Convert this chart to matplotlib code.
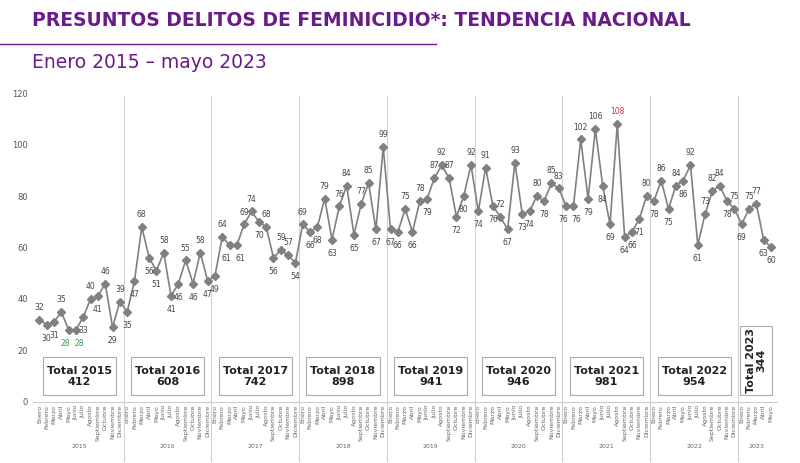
import matplotlib.pyplot as plt
from matplotlib.lines import Line2D
from matplotlib.patches import Rectangle

months = ["Enero", "Febrero", "Marzo", "Abril", "Mayo", "Junio", "Julio", "Agosto",
          "Septiembre", "Octubre", "Noviembre", "Diciembre"]
years = ["2015", "2016", "2017", "2018", "2019", "2020", "2021", "2022", "2023"]
v2015 = [32, 30, 31, 35, 28, 28, 33, 40, 41, 46, 29, 39]
v2016 = [35, 47, 68, 56, 51, 58, 41, 46, 55, 46, 58, 47]
v2017 = [49, 64, 61, 61, 69, 74, 70, 68, 56, 59, 57, 54]
v2018 = [69, 66, 68, 79, 63, 76, 84, 65, 77, 85, 67, 99]
v2019 = [67, 66, 75, 66, 78, 79, 87, 92, 87, 72, 80, 92]
v2020 = [74, 91, 76, 72, 67, 93, 73, 74, 80, 78, 85, 83]
v2021 = [76, 76, 102, 79, 106, 84, 69, 108, 64, 66, 71, 80]
v2022 = [78, 86, 75, 84, 86, 92, 61, 73, 82, 84, 78, 75]
v2023 = [69, 75, 77, 63, 60]
totals = [412, 608, 742, 898, 941, 946, 981, 954, 344]

series = [v2015, v2016, v2017, v2018, v2019, v2020, v2021, v2022, v2023]
values = [v for s in series for v in s]
labels = [months[i] for s in series for i in range(len(s))]
x = list(range(len(values)))

purple = "#6a1b8a"
grey = "#808080"

fig = plt.figure(figsize=(8, 4.63), dpi=100)
fig.text(0.04, 0.955, "PRESUNTOS DELITOS DE FEMINICIDIO*: TENDENCIA NACIONAL",
         color=purple, fontsize=13.5, fontweight="bold", va="center")
fig.add_artist(Line2D([0.0, 0.545], [0.905, 0.905], color=purple, lw=1))
fig.text(0.04, 0.865, "Enero 2015 – mayo 2023", color=purple, fontsize=13.5, va="center")

ax = fig.add_axes([0.041, 0.132, 0.93, 0.667])
ax.plot(x, values, color=grey, lw=1.2, marker="D", ms=4, mfc=grey, mec=grey, zorder=3)
ax.set_xlim(-0.9, 100.8)
ax.set_ylim(0, 120)
ax.set_yticks(range(0, 121, 20))
ax.tick_params(axis="y", labelsize=6, colors="#555555", length=0)
ax.set_xticks(x)
ax.set_xticklabels(labels, rotation=90, fontsize=4.5, color="#666666")
ax.tick_params(axis="x", length=0, pad=2)
for s in ["top", "right", "left"]:
    ax.spines[s].set_visible(False)
ax.spines["bottom"].set_color("#cccccc")

# labels above/below; nudge equal neighbours apart
for i, v in enumerate(values):
    prev = values[i - 1] if i > 0 else v
    nxt = values[i + 1] if i < len(values) - 1 else v
    above = v >= (prev + nxt) / 2
    dx = 0
    if i > 0 and v == prev:
        dx = 0.4
    elif i < len(values) - 1 and v == nxt:
        dx = -0.4
    c = "#444444"
    if v == 28:
        c = "#2e9e4f"
    if v == 108:
        c = "#d0303a"
    ax.text(i + dx, v + (3 if above else -3.5), str(v), ha="center",
            va="bottom" if above else "top", fontsize=5.5, color=c)

# year separators, totals, year labels
start = 0
for k, s in enumerate(series):
    end = start + len(s) - 1
    if k < len(series) - 1:
        ax.axvline(end + 0.5, color="#d0d0d8", lw=0.8, ymin=-0.19, ymax=0.99, clip_on=False)
    mid = (start + end) / 2
    ax.text(mid, -17.5, years[k], ha="center", va="center", fontsize=4.5, color="#666666")
    if k < len(series) - 1:
        ax.add_patch(Rectangle((mid - 5, 2.5), 10, 15, fc="white", ec="#aaaaaa", lw=0.8, zorder=2))
        ax.text(mid, 10, "Total %s\n%d" % (years[k], totals[k]), ha="center", va="center",
                fontsize=8, fontweight="bold", color="#222222", linespacing=1.15, zorder=4)
    else:
        ax.add_patch(Rectangle((mid - 2.2, 2.5), 4.4, 27, fc="white", ec="#aaaaaa", lw=0.8, zorder=2))
        ax.text(mid, 16, "Total %s\n%d" % (years[k], totals[k]), ha="center", va="center",
                fontsize=8, fontweight="bold", color="#222222", rotation=90, linespacing=1.1,
                zorder=4)
    start = end + 1

fig.savefig("out.png", dpi=100)
